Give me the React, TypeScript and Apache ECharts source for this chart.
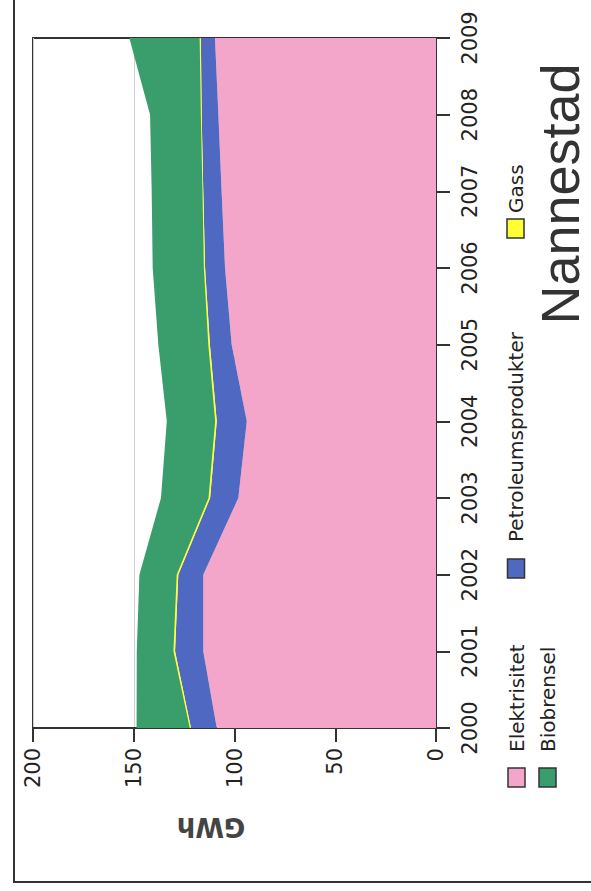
import React, { useEffect, useRef } from "react";
import * as echarts from "echarts";

const years = ["2000", "2001", "2002", "2003", "2004", "2005", "2006", "2007", "2008", "2009"];
const elektrisitet = [108.8, 115.5, 115.5, 98.1, 93.9, 101.4, 104.7, 106.4, 108.0, 109.7];
const petroleum = [12.8, 14.0, 12.4, 14.0, 14.9, 10.8, 9.9, 9.1, 8.3, 7.0];
const gass = [0.6, 0.8, 0.8, 0.8, 0.8, 0.8, 0.6, 0.4, 0.4, 0.6];
const biobrensel = [26.4, 18.2, 18.5, 23.6, 24.0, 24.8, 25.4, 25.2, 25.2, 34.9];

const seriesNames = ["Elektrisitet", "Petroleumsprodukter", "Gass", "Biobrensel"];
const colors = ["#F3A6C9", "#4F68C2", "#FFFF33", "#3A9D6C"];
const title = "Nannestad";
const axisName = "GWh";

const FONT = "DejaVu Sans";

export default function App() {
  const ref = useRef<HTMLDivElement>(null);
  useEffect(() => {
    if (!ref.current) return;
    const chart = echarts.init(ref.current, undefined, { renderer: "svg" });
    const dataSets = [elektrisitet, petroleum, gass, biobrensel];
    const series = dataSets.map((d, i) => ({
      name: seriesNames[i],
      type: "line",
      stack: "total",
      data: d,
      showSymbol: false,
      symbol: "none",
      lineStyle: i === 2 ? { width: 1.2, color: colors[2] } : { width: 0 },
      areaStyle: { color: colors[i], opacity: 1 },
      itemStyle: { color: colors[i] },
      z: 2 + i,
    }));

    const legendItems = [
      { name: seriesNames[0], cx: 516.5, by: 768, ty: 752 },
      { name: seriesNames[3], cx: 547.5, by: 768, ty: 752 },
      { name: seriesNames[1], cx: 516, by: 559, ty: 542 },
      { name: seriesNames[2], cx: 515.5, by: 219, ty: 213 },
    ];
    const graphics: any[] = [
      {
        type: "polyline",
        shape: { points: [[14, 0], [14, 882], [600, 882]] },
        style: { stroke: "#333", lineWidth: 2, fill: null },
        silent: true,
      },
      {
        type: "text",
        x: 211,
        y: 827,
        rotation: Math.PI,
        style: {
          text: axisName,
          font: `bold 26px "${FONT}"`,
          fill: "#444",
          textAlign: "center",
          textVerticalAlign: "middle",
        },
      },
      {
        type: "text",
        x: 560,
        y: 194,
        rotation: Math.PI / 2,
        style: {
          text: title,
          font: `54px "Liberation Sans"`,
          fill: "#333",
          textAlign: "center",
          textVerticalAlign: "middle",
        },
      },
    ];
    legendItems.forEach((li) => {
      const idx = seriesNames.indexOf(li.name);
      graphics.push({
        type: "rect",
        shape: { x: li.cx - 8.5, y: li.by, width: 17, height: 19 },
        style: { fill: colors[idx], stroke: "#333", lineWidth: 1.5 },
      });
      graphics.push({
        type: "text",
        x: li.cx,
        y: li.ty,
        rotation: Math.PI / 2,
        style: {
          text: li.name,
          font: `20px "${FONT}"`,
          fill: "#222",
          textAlign: "left",
          textVerticalAlign: "middle",
        },
      });
    });

    chart.setOption({
      animation: false,
      backgroundColor: "#fff",
      grid: {
        left: 33,
        right: 155,
        top: 38,
        bottom: 163,
        show: true,
        borderColor: "#333",
        borderWidth: 2,
        backgroundColor: "transparent",
        containLabel: false,
      },
      xAxis: {
        type: "value",
        inverse: true,
        min: 0,
        max: 200,
        interval: 50,
        position: "bottom",
        axisLine: { show: true, lineStyle: { color: "#333", width: 2 } },
        axisTick: { show: true, length: 14, lineStyle: { color: "#333", width: 2 } },
        axisLabel: {
          rotate: 90,
          margin: 20,
          fontSize: 21,
          fontFamily: FONT,
          color: "#222",
          showMinLabel: true,
          showMaxLabel: true,
        },
        splitLine: { show: true, lineStyle: { color: "#cfcfcf", width: 1 } },
      },
      yAxis: {
        type: "category",
        data: years,
        boundaryGap: false,
        position: "right",
        axisLine: { show: true, lineStyle: { color: "#333", width: 2 } },
        axisTick: { show: true, length: 14, lineStyle: { color: "#333", width: 2 } },
        axisLabel: {
          rotate: 90,
          margin: 23,
          fontSize: 21,
          fontFamily: FONT,
          color: "#222",
          interval: 0,
        },
        splitLine: { show: false },
      },
      series,
      graphic: graphics,
    });
    return () => chart.dispose();
  }, []);
  return (
    <div
      ref={ref}
      style={{ position: "absolute", left: 0, top: 0, width: 591, height: 891 }}
    />
  );
}
